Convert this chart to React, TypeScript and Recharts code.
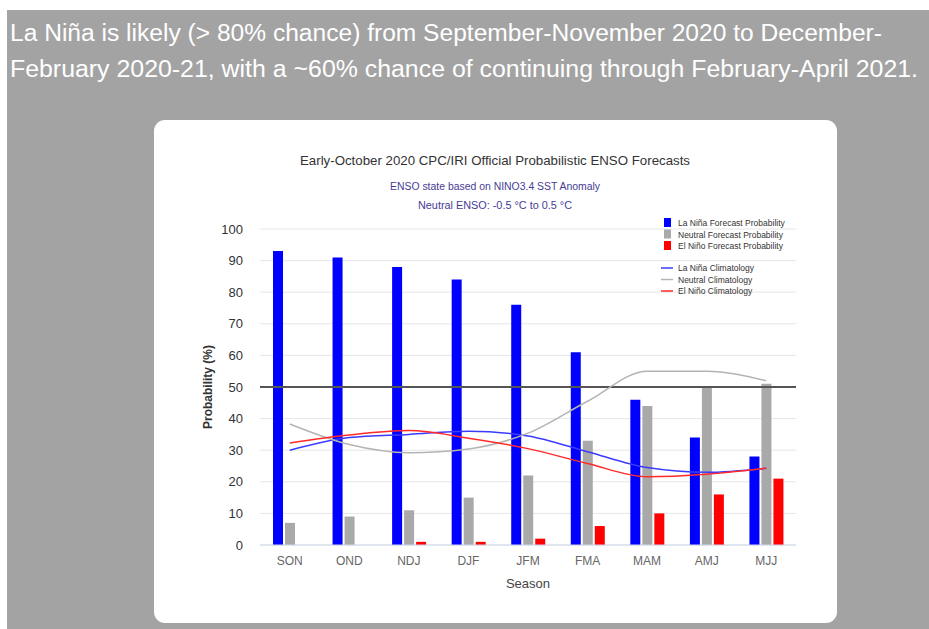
import {
  ComposedChart,
  Bar,
  Line,
  XAxis,
  YAxis,
  CartesianGrid,
  ReferenceLine,
} from "recharts";

const seasons = ["SON", "OND", "NDJ", "DJF", "JFM", "FMA", "MAM", "AMJ", "MJJ"];
const laNinaProb = [93, 91, 88, 84, 76, 61, 46, 34, 28];
const neutralProb = [7, 9, 11, 15, 22, 33, 44, 50, 51];
const elNinoProb = [0, 0, 1, 1, 2, 6, 10, 16, 21];
const laNinaClim = [30, 34, 35, 36, 34.5, 29.5, 24.5, 23, 24.3];
const neutralClim = [38.3, 31.8, 29.2, 30.4, 35.4, 45.5, 55, 55, 52];
const elNinoClim = [32.3, 34.8, 36.2, 33.8, 30.5, 25.8, 21.6, 22.4, 24.3];
const yTicks = [0, 10, 20, 30, 40, 50, 60, 70, 80, 90, 100];

const headline = [
  "La Niña is likely (> 80% chance) from September-November 2020 to December-",
  "February 2020-21, with a ~60% chance of continuing through February-April 2021.",
];

const barLegend = [
  { name: "La Niña Forecast Probability", color: "#0000ff" },
  { name: "Neutral Forecast Probability", color: "#a9a9a9" },
  { name: "El Niño Forecast Probability", color: "#ff0000" },
];
const lineLegend = [
  { name: "La Niña Climatology", color: "#3b3bff" },
  { name: "Neutral Climatology", color: "#b4b4b4" },
  { name: "El Niño Climatology", color: "#ff2a2a" },
];

const data = seasons.map((s, i) => ({
  season: s,
  laNina: laNinaProb[i],
  neutral: neutralProb[i],
  elNino: elNinoProb[i],
  laNinaC: laNinaClim[i],
  neutralC: neutralClim[i],
  elNinoC: elNinoClim[i],
}));

const font = "'Liberation Sans', Arial, sans-serif";

export default function App() {
  return (
    <div
      style={{
        position: "fixed",
        left: 0,
        top: 0,
        width: 929,
        height: 629,
        background: "#fff",
        overflow: "hidden",
      }}
    >
      <div
        style={{
          position: "absolute",
          left: 7,
          top: 10,
          width: 922,
          height: 619,
          background: "#a3a3a3",
        }}
      />
      <svg
        width={929}
        height={100}
        style={{ position: "absolute", left: 0, top: 0 }}
      >
        <text
          x={10}
          y={41}
          fill="#fff"
          fontSize={23}
          fontFamily={font}
          textLength={872}
          lengthAdjust="spacingAndGlyphs"
        >
          {headline[0]}
        </text>
        <text
          x={10}
          y={77}
          fill="#fff"
          fontSize={23}
          fontFamily={font}
          textLength={908}
          lengthAdjust="spacingAndGlyphs"
        >
          {headline[1]}
        </text>
      </svg>

      <div
        style={{
          position: "absolute",
          left: 154,
          top: 120,
          width: 683,
          height: 503,
          background: "#fff",
          borderRadius: 11,
          overflow: "hidden",
        }}
      >
        <ComposedChart
          width={683}
          height={503}
          data={data}
          margin={{ top: 109, right: 41, left: 0, bottom: 28 }}
          barSize={10}
          barGap={2}
        >
          <CartesianGrid vertical={false} stroke="#e6e6e6" />
          <XAxis
            dataKey="season"
            height={50}
            axisLine={{ stroke: "#ccd6eb" }}
            tickLine={false}
            tickMargin={5}
            tick={{ fill: "#666", fontSize: 12, fontFamily: font }}
            label={{
              value: "Season",
              position: "insideBottom",
              offset: 7,
              fill: "#444",
              fontSize: 13,
              fontFamily: font,
            }}
          />
          <YAxis
            width={106}
            domain={[0, 100]}
            ticks={yTicks}
            axisLine={false}
            tickLine={false}
            tickMargin={11}
            tick={{ fill: "#333", fontSize: 13, fontFamily: font }}
            label={{
              value: "Probability (%)",
              angle: -90,
              position: "insideLeft",
              offset: 54,
              fill: "#333",
              fontSize: 12,
              fontWeight: "bold",
              fontFamily: font,
              style: { textAnchor: "middle" },
            }}
          />
          <Bar dataKey="laNina" fill="#0000ff" isAnimationActive={false} />
          <Bar dataKey="neutral" fill="#a9a9a9" isAnimationActive={false} />
          <Bar dataKey="elNino" fill="#ff0000" isAnimationActive={false} />
          <ReferenceLine y={50} stroke="#555" strokeWidth={2} />
          <Line
            type="monotone"
            dataKey="laNinaC"
            stroke="#3b3bff"
            strokeWidth={1.5}
            dot={false}
            isAnimationActive={false}
          />
          <Line
            type="monotone"
            dataKey="neutralC"
            stroke="#b4b4b4"
            strokeWidth={1.5}
            dot={false}
            isAnimationActive={false}
          />
          <Line
            type="monotone"
            dataKey="elNinoC"
            stroke="#ff2a2a"
            strokeWidth={1.5}
            dot={false}
            isAnimationActive={false}
          />
        </ComposedChart>

        <svg
          width={683}
          height={503}
          style={{ position: "absolute", left: 0, top: 0, pointerEvents: "none" }}
        >
          <text
            x={341}
            y={45}
            textAnchor="middle"
            fill="#333"
            fontSize={13}
            fontFamily={font}
            textLength={390}
            lengthAdjust="spacingAndGlyphs"
          >
            Early-October 2020 CPC/IRI Official Probabilistic ENSO Forecasts
          </text>
          <text
            x={341}
            y={70}
            textAnchor="middle"
            fill="#463c96"
            fontSize={10}
            fontFamily={font}
            textLength={210}
            lengthAdjust="spacingAndGlyphs"
          >
            ENSO state based on NINO3.4 SST Anomaly
          </text>
          <text
            x={341}
            y={89}
            textAnchor="middle"
            fill="#463c96"
            fontSize={10}
            fontFamily={font}
            textLength={154}
            lengthAdjust="spacingAndGlyphs"
          >
            Neutral ENSO: -0.5 °C to 0.5 °C
          </text>
          {barLegend.map((item, i) => (
            <g key={item.name}>
              <rect x={510} y={98 + i * 11.5} width={7} height={9} fill={item.color} />
              <text
                x={524}
                y={106 + i * 11.5}
                fill="#333"
                fontSize={8.5}
                fontFamily={font}
              >
                {item.name}
              </text>
            </g>
          ))}
          {lineLegend.map((item, i) => (
            <g key={item.name}>
              <line
                x1={507}
                x2={519}
                y1={148 + i * 11.5}
                y2={148 + i * 11.5}
                stroke={item.color}
                strokeWidth={1.5}
              />
              <text
                x={524}
                y={151 + i * 11.5}
                fill="#333"
                fontSize={8.5}
                fontFamily={font}
              >
                {item.name}
              </text>
            </g>
          ))}
        </svg>
      </div>
    </div>
  );
}
